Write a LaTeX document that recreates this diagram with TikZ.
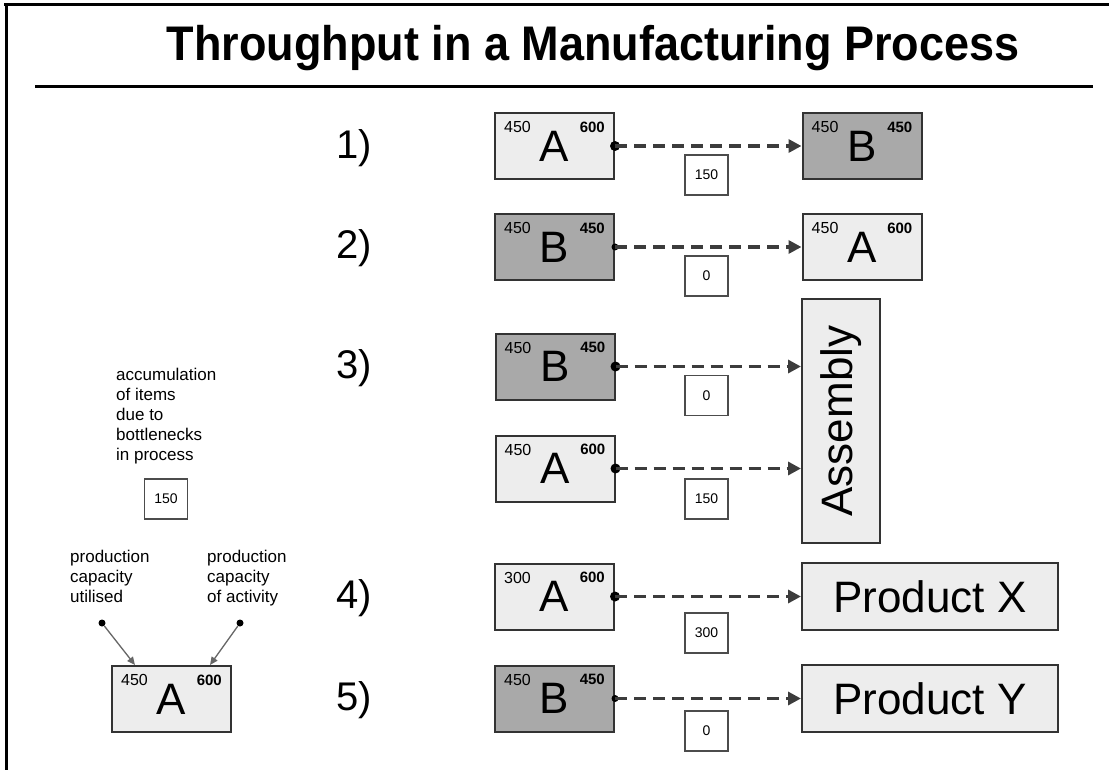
\documentclass[tikz,border=0pt]{standalone}
\usepackage{fontspec}
\setmainfont{Liberation Sans}
\usetikzlibrary{calc,arrows.meta}
\definecolor{lightbox}{HTML}{EDEDED}
\definecolor{darkbox}{HTML}{A9A9A9}
\definecolor{edgegray}{HTML}{333333}
\definecolor{dashgray}{HTML}{3C3C3C}
\tikzset{
  procbox/.style={draw=edgegray, line width=2pt, minimum width=119pt, minimum height=66pt, inner sep=0pt, font=\fontsize{44}{50}\selectfont},
  boxa/.style={procbox, fill=lightbox},
  boxb/.style={procbox, fill=darkbox},
  lnum/.style={inner sep=0pt, font=\fontsize{16}{18}\selectfont},
  rnum/.style={inner sep=0pt, font=\bfseries\fontsize{15}{18}\selectfont},
  qbox/.style={draw=black!70, line width=1.3pt, fill=white, minimum width=43pt, minimum height=40pt, inner sep=0pt, font=\fontsize{14}{16}\selectfont},
  bigbox/.style={draw=edgegray, line width=2pt, fill=lightbox, inner sep=0pt, font=\fontsize{44}{50}\selectfont},
  flow/.style={draw=dashgray, line width=3.5pt, dash pattern=on 12pt off 7pt, -{Triangle[length=13pt,width=13pt]}},
  startdot/.style={circle, fill=black, inner sep=0pt, minimum size=10pt},
  rownum/.style={inner sep=0pt, font=\fontsize{40}{44}\selectfont},
  note/.style={inner sep=0pt, align=left, font=\fontsize{17}{20}\selectfont},
  legdot/.style={circle, fill=black, inner sep=0pt, minimum size=7pt},
  legarrow/.style={draw=black!60, line width=1.3pt, -{Triangle[length=8pt,width=7pt]}},
  frameline/.style={draw=black, line width=3pt},
}
\newcommand\pbox[7]{%
  \node[#4] (#1) at (#2,#3) {#7};
  \node[lnum, anchor=west] (#1-l) at ($(#1.north west)+(10,15)$) {#5};
  \node[rnum, anchor=east] (#1-r) at ($(#1.north east)+(-10,15)$) {#6};
}
\begin{document}
\begin{tikzpicture}[x=1pt,y=-1pt]
\useasboundingbox (0,0) rectangle (1109,770);
% frame
\coordinate (fa) at (4,5);
\coordinate (fb) at (1109,5);
\coordinate (fc) at (6,5);
\coordinate (fd) at (6,770);
\draw[frameline] (fa) -- (fb);
\draw[frameline] (fc) -- (fd);
% title
\node[inner sep=0pt, font=\bfseries\fontsize{45}{50}\selectfont, yscale=1.08] (title) at (593,48) {Throughput in a Manufacturing Process};
\coordinate (ra) at (35,87);
\coordinate (rb) at (1093,87);
\draw[frameline] (ra) -- (rb);
% row numbers
\node[rownum] (n1) at (354,148) {1)};
\node[rownum] (n2) at (354,248) {2)};
\node[rownum] (n3) at (354,368) {3)};
\node[rownum] (n4) at (354,598) {4)};
\node[rownum] (n5) at (354,700) {5)};
% row 1
\pbox{a1}{554.5}{146}{boxa}{450}{600}{A}
\pbox{b1}{862}{146}{boxb}{450}{450}{B}
\node[qbox] (q1) at (706.5,175) {150};
\node[startdot] (s1) at (a1.east) {};
\draw[flow] (a1.east) -- (b1.west);
% row 2
\pbox{b2}{554.5}{247}{boxb}{450}{450}{B}
\pbox{a2}{862}{247}{boxa}{450}{600}{A}
\node[qbox] (q2) at (706.5,276) {0};
\node[startdot, minimum size=7pt] (s2) at (b2.east) {};
\draw[flow] (b2.east) -- (a2.west);
% row 3
\node[bigbox, minimum width=78pt, minimum height=244pt] (asm) at (841,421) {\rotatebox{90}{Assembly}};
\pbox{b3}{555}{366.5}{boxb}{450}{450}{B}
\pbox{a3}{555}{468.5}{boxa}{450}{600}{A}
\node[qbox] (q3) at (706.5,395.5) {0};
\node[qbox] (q4) at (706.5,499) {150};
\node[startdot] (s3) at (b3.east) {};
\node[startdot] (s4) at (a3.east) {};
\draw[flow] (b3.east) -- (asm.west |- b3.east);
\draw[flow] (a3.east) -- (asm.west |- a3.east);
% row 4
\pbox{a4}{554.5}{596.5}{boxa}{300}{600}{A}
\node[bigbox, minimum width=256pt, minimum height=67pt] (px) at (930,596.5) {Product X};
\node[qbox] (q5) at (706.5,633) {300};
\node[startdot] (s5) at (a4.east) {};
\draw[flow] (a4.east) -- (px.west);
% row 5
\pbox{b5}{554.5}{698.5}{boxb}{450}{450}{B}
\node[bigbox, minimum width=256pt, minimum height=67pt] (py) at (930,698.5) {Product Y};
\node[qbox] (q6) at (706.5,731) {0};
\node[startdot, minimum size=7pt] (s6) at (b5.east) {};
\draw[flow] (b5.east) -- (py.west);
% legend
\node[note, anchor=north west] (acc) at (116,368) {accumulation\\of items\\due to\\bottlenecks\\in process};
\node[qbox] (lq) at (166,499) {150};
\node[note, anchor=north west] (pu) at (70,550) {production\\capacity\\utilised};
\node[note, anchor=north west] (pa) at (207,550) {production\\capacity\\of activity};
\pbox{la}{171.5}{699}{boxa}{450}{600}{A}
\node[legdot] (d1) at (102,623) {};
\node[legdot] (d2) at (240,623) {};
\coordinate (t1) at ($(la.north west)+(24,0)$);
\coordinate (t2) at ($(la.north east)+(-22,0)$);
\draw[legarrow] (d1) -- (t1);
\draw[legarrow] (d2) -- (t2);
\end{tikzpicture}
\end{document}
